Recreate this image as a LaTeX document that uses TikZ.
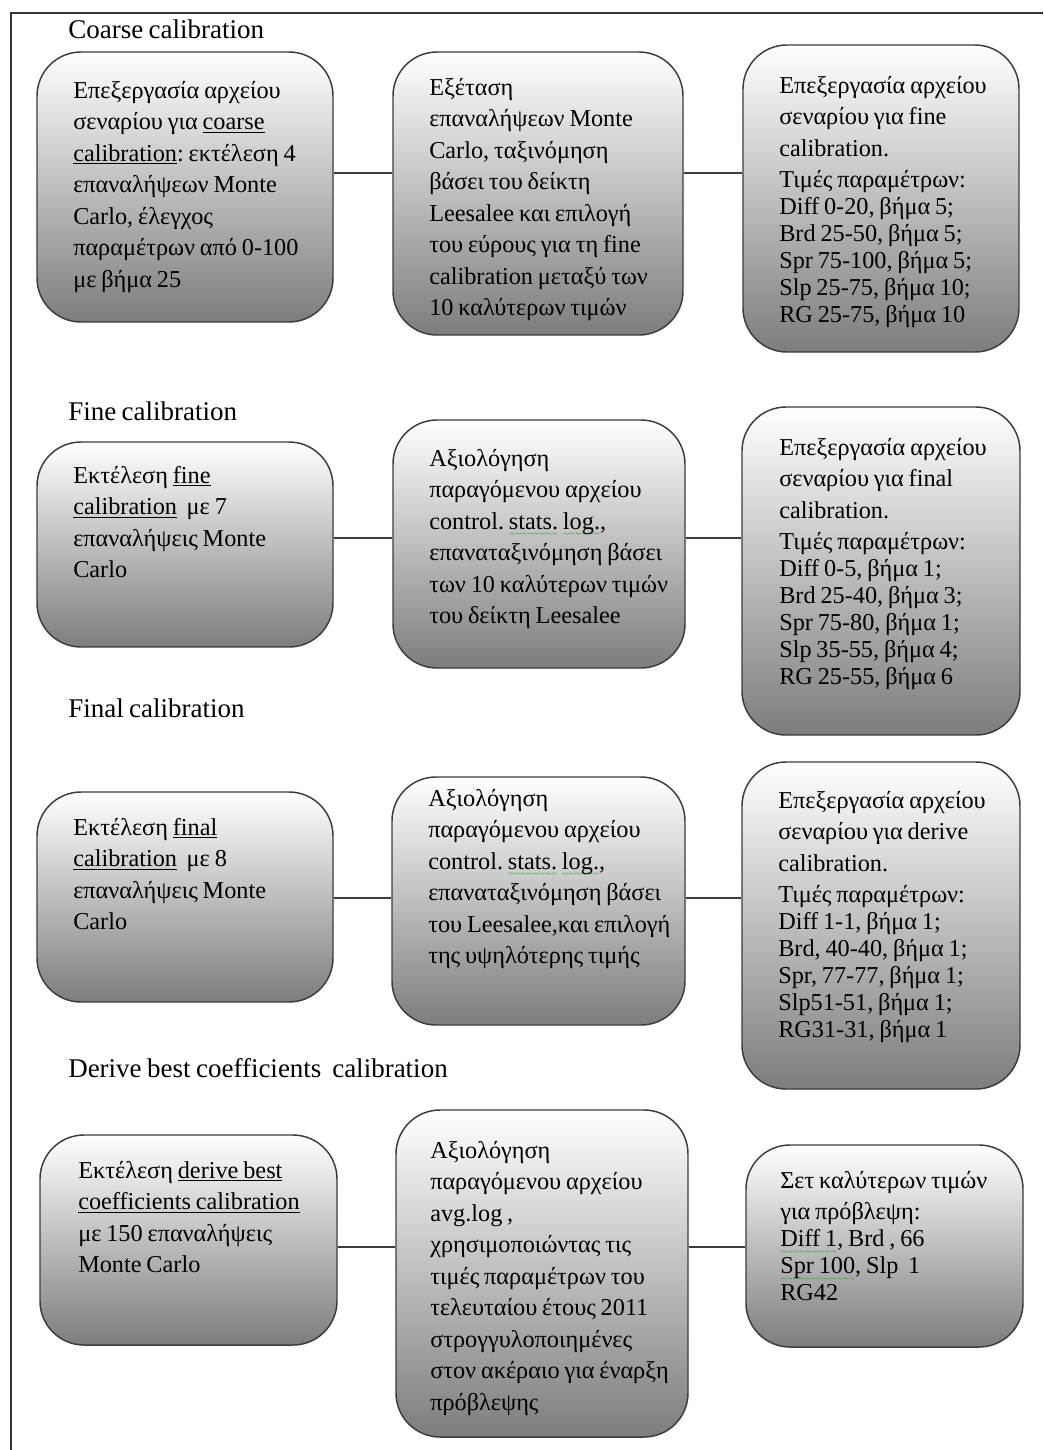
\documentclass[tikz,border=0pt]{standalone}
\usepackage{fontspec}
\setmainfont{Liberation Serif}[WordSpace=0.8]
\usetikzlibrary{fit}
\definecolor{boxline}{RGB}{60,60,60}
\definecolor{boxbot}{RGB}{125,125,125}
\definecolor{wavegreen}{RGB}{40,165,40}
\newsavebox\wavebox
\newcommand\gwave[1]{\sbox\wavebox{#1}\rlap{\lower6.5pt\hbox to \wd\wavebox{\color{wavegreen}\fontsize{8pt}{8pt}\selectfont\xleaders\hbox{\char"7E}\hfil}}\usebox\wavebox}
\newcommand\ps{\\[-3.4pt]}
\tikzset{
  box/.style={draw=boxline, line width=1.1pt, rounded corners=33pt, top color=white, bottom color=boxbot, inner sep=0pt},
  txt/.style={anchor=north west, align=left, inner sep=0pt, font=\fontsize{18.2pt}{23.6pt}\selectfont\frenchspacing},
  ttl/.style={anchor=base west, inner sep=0pt, font=\fontsize{20.25pt}{24pt}\selectfont},
  conn/.style={draw=boxline, line width=1.1pt},
  frame/.style={draw=black!80, line width=1pt}
}
\begin{document}
\begin{tikzpicture}[x=0.75pt,y=-0.75pt]
\useasboundingbox (0,0) rectangle (1043,1450);
\fill[white] (0,0) rectangle (1043,1450);
\draw[frame] (1043,13) -- (11,13) -- (11,1450);

% titles
\node[ttl] (t1) at (68,38) {Coarse calibration};
\node[ttl] (t2) at (68,420) {Fine calibration};
\node[ttl] (t3) at (68,717) {Final calibration};
\node[ttl] (t4) at (68,1077) {Derive best coefficients\ \ calibration};

% boxes
\node[box, fit={(37,52) (333,322)}] (a1) {};
\node[box, fit={(393,52) (683,335)}] (b1) {};
\node[box, fit={(743,45) (1019,352)}] (c1) {};
\node[box, fit={(37,442) (333,647)}] (a2) {};
\node[box, fit={(393,420) (685,668)}] (b2) {};
\node[box, fit={(742,407) (1020,735)}] (c2) {};
\node[box, fit={(37,792) (333,1002)}] (a3) {};
\node[box, fit={(392,777) (685,1025)}] (b3) {};
\node[box, fit={(742,762) (1020,1089)}] (c3) {};
\node[box, fit={(40,1135) (337,1345)}] (a4) {};
\node[box, fit={(396,1110) (688,1437)}] (b4) {};
\node[box, fit={(746,1145) (1023,1347)}] (c4) {};

% connectors
\draw[conn] (a1.east |- 0,173) -- (b1.west |- 0,173);
\draw[conn] (b1.east |- 0,173) -- (c1.west |- 0,173);
\draw[conn] (a2.east |- 0,538) -- (b2.west |- 0,538);
\draw[conn] (b2.east |- 0,538) -- (c2.west |- 0,538);
\draw[conn] (a3.east |- 0,898) -- (b3.west |- 0,898);
\draw[conn] (b3.east |- 0,898) -- (c3.west |- 0,898);
\draw[conn] (a4.east |- 0,1247) -- (b4.west |- 0,1247);
\draw[conn] (b4.east |- 0,1247) -- (c4.west |- 0,1247);

% texts
\node[txt] (a1t) at (73,76) {\strut Επεξεργασία αρχείου\\
σεναρίου για \underline{coarse}\\
\underline{calibration}: εκτέλεση 4\\
επαναλήψεων Monte\\
Carlo, έλεγχος\\
παραμέτρων από 0-100\\
με βήμα 25};

\node[txt] (b1t) at (429,73) {\strut Εξέταση\\
επαναλήψεων Monte\\
Carlo, ταξινόμηση\\
βάσει του δείκτη\\
Leesalee και επιλογή\\
του εύρους για τη fine\\
calibration μεταξύ των\\
10 καλύτερων τιμών};

\node[txt] (c1t) at (779,71) {\strut Επεξεργασία αρχείου\\
σεναρίου για fine\\
calibration.\\
Τιμές παραμέτρων:\ps
Diff 0-20, βήμα 5;\ps
Brd 25-50, βήμα 5;\ps
Spr 75-100, βήμα 5;\ps
Slp 25-75, βήμα 10;\ps
RG 25-75, βήμα 10};

\node[txt] (a2t) at (73,461) {\strut Εκτέλεση \underline{fine}\\
\underline{calibration}\ \ με 7\\
επαναλήψεις Monte\\
Carlo};

\node[txt] (b2t) at (429,444) {\strut Αξιολόγηση\\
παραγόμενου αρχείου\\
control. \gwave{stats.} \gwave{log.},\\
επαναταξινόμηση βάσει\\
των 10 καλύτερων τιμών\\
του δείκτη Leesalee};

\node[txt] (c2t) at (779,433) {\strut Επεξεργασία αρχείου\\
σεναρίου για final\\
calibration.\\
Τιμές παραμέτρων:\ps
Diff 0-5, βήμα 1;\ps
Brd 25-40, βήμα 3;\ps
Spr 75-80, βήμα 1;\ps
Slp 35-55, βήμα 4;\ps
RG 25-55, βήμα 6};

\node[txt] (a3t) at (73,813) {\strut Εκτέλεση \underline{final}\\
\underline{calibration}\ \ με 8\\
επαναλήψεις Monte\\
Carlo};

\node[txt] (b3t) at (428,784) {\strut Αξιολόγηση\\
παραγόμενου αρχείου\\
control. \gwave{stats.} \gwave{log.},\\
επαναταξινόμηση βάσει\\
του Leesalee,και επιλογή\\
της υψηλότερης τιμής};

\node[txt] (c3t) at (778,786) {\strut Επεξεργασία αρχείου\\
σεναρίου για derive\\
calibration.\\
Τιμές παραμέτρων:\ps
Diff 1-1, βήμα 1;\ps
Brd, 40-40, βήμα 1;\ps
Spr, 77-77, βήμα 1;\ps
Slp51-51, βήμα 1;\ps
RG31-31, βήμα 1};

\node[txt] (a4t) at (78,1156) {\strut Εκτέλεση \underline{derive best}\\
\underline{coefficients calibration}\\
με 150 επαναλήψεις\\
Monte Carlo};

\node[txt] (b4t) at (430,1136) {\strut Αξιολόγηση\\
παραγόμενου αρχείου\\
avg.log ,\\
χρησιμοποιώντας τις\\
τιμές παραμέτρων του\\
τελευταίου έτους 2011\\
στρογγυλοποιημένες\\
στον ακέραιο για έναρξη\\
πρόβλεψης};

\node[txt] (c4t) at (780,1166) {\strut Σετ καλύτερων τιμών\\
για πρόβλεψη:\ps
\gwave{Diff 1}, Brd , 66\ps
\gwave{Spr 100}, Slp\ \ 1\ps
RG42};
\end{tikzpicture}
\end{document}
